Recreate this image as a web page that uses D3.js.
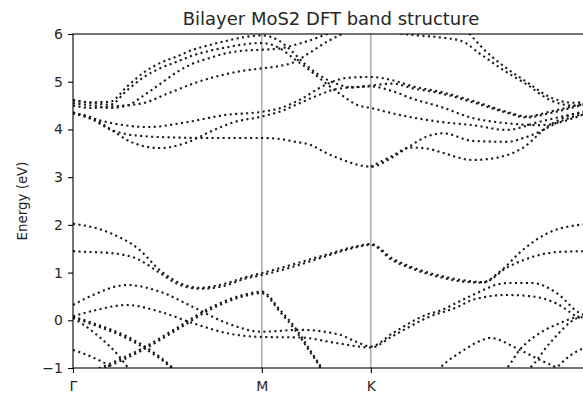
<!DOCTYPE html>
<html>
<head>
<meta charset="utf-8">
<script src="https://cdn.jsdelivr.net/npm/d3@7"></script>
<style>
  html, body { margin: 0; padding: 0; background: #fff; overflow: hidden; }
  svg { display: block; font-family: "DejaVu Sans", sans-serif; }
</style>
</head>
<body>
<svg id="chart" width="583" height="396"></svg>
<script>
// High-symmetry points along the path (path length units, Γ-M = 1)
const kLabels = ["Γ", "M", "K", "Γ"];
const kTicks = [0, 1, 1.577, 2.732];
const energyTicks = [-1, 0, 1, 2, 3, 4, 5, 6];

// Valence bands: [k, E (eV)]
const v1 = [[0,2.02],[0.04,2.0],[0.196,1.83],[0.354,1.47],[0.46,1.05],[0.566,0.78],[0.672,0.68],[0.778,0.74],[0.92,0.91],[1,0.99],[1.164,1.17],[1.344,1.38],[1.5,1.55],[1.577,1.6],[1.693,1.29],[1.783,1.13],[1.958,0.92],[2.048,0.85],[2.17,0.8],[2.26,1.02],[2.38,1.47],[2.51,1.82],[2.68,2.0],[2.732,2.02]];
const v2 = [[0,1.45],[0.04,1.44],[0.196,1.41],[0.354,1.26],[0.46,0.99],[0.566,0.74],[0.672,0.66],[0.778,0.7],[0.92,0.88],[1,0.95],[1.164,1.12],[1.344,1.35],[1.5,1.53],[1.577,1.58],[1.693,1.25],[1.783,1.1],[1.958,0.89],[2.048,0.82],[2.17,0.79],[2.296,1.1],[2.434,1.33],[2.56,1.43],[2.732,1.45]];
const vA = [[0,0.32],[0.106,0.53],[0.286,0.74],[0.46,0.6],[0.635,0.28],[0.815,-0.06],[1,-0.24],[1.2,-0.2],[1.41,-0.3],[1.5,-0.45],[1.577,-0.55],[1.693,-0.27],[1.873,0.12],[1.942,0.2],[2.048,0.4],[2.116,0.53],[2.296,0.78],[2.434,0.78],[2.561,0.57],[2.683,0.15],[2.732,0.08]];
const vB = [[0,0.08],[0.106,0.2],[0.286,0.32],[0.46,0.18],[0.635,-0.06],[0.815,-0.27],[1,-0.35],[1.2,-0.36],[1.4,-0.48],[1.577,-0.57],[1.693,-0.33],[1.873,0.05],[2.048,0.3],[2.116,0.43],[2.296,0.53],[2.434,0.5],[2.561,0.35],[2.683,0.05],[2.732,0.0]];
const vC1 = [[0.11,-1.05],[0.159,-0.97],[0.37,-0.58],[0.55,-0.16],[0.725,0.26],[0.9,0.53],[1,0.6],[1.095,0.22],[1.185,-0.2],[1.254,-0.62],[1.317,-1.0],[1.33,-1.08]];
const vC2 = [[0.14,-1.05],[0.37,-0.62],[0.55,-0.2],[0.725,0.22],[0.9,0.5],[1,0.57],[1.095,0.18],[1.185,-0.25],[1.254,-0.66],[1.31,-1.0],[1.32,-1.08]];
const vD1 = [[0,0.08],[0.106,-0.06],[0.286,-0.34],[0.392,-0.58],[0.529,-1.0],[0.55,-1.08]];
const vD2 = [[0,0.06],[0.106,-0.09],[0.286,-0.38],[0.392,-0.62],[0.52,-1.0],[0.54,-1.08]];
const vE = [[0,0.05],[0.106,-0.24],[0.286,-0.97],[0.3,-1.05]];
const vF = [[0,-0.62],[0.106,-0.78],[0.196,-0.97],[0.22,-1.05]];
const vG = [[1.93,-1.05],[1.942,-1.0],[2.048,-0.68],[2.17,-0.41],[2.206,-0.37],[2.365,-0.62],[2.471,-0.83],[2.561,-1.0],[2.58,-1.05]];
const vH = [[2.28,-1.05],[2.296,-1.0],[2.365,-0.62],[2.471,-0.27],[2.577,-0.06],[2.683,0.08],[2.732,0.1]];
const vI = [[2.4,-1.05],[2.418,-1.0],[2.524,-0.48],[2.683,0.06],[2.732,0.08]];
const vJ = [[2.55,-1.05],[2.561,-1.0],[2.683,-0.62],[2.732,-0.55]];

// Conduction bands: [k, E (eV)]
const c1 = [[0,4.34],[0.106,4.2],[0.196,4.0],[0.286,3.9],[0.37,3.86],[0.55,3.83],[0.725,3.82],[1,3.82],[1.095,3.8],[1.164,3.75],[1.254,3.68],[1.344,3.5],[1.429,3.36],[1.577,3.22],[1.693,3.42],[1.783,3.65],[1.873,3.85],[1.96,3.92],[2.116,3.76],[2.296,3.74],[2.42,3.87],[2.6,4.2],[2.732,4.36]];
const c2 = [[1.577,3.22],[1.693,3.45],[1.783,3.62],[1.873,3.6],[1.942,3.53],[2.116,3.36],[2.2,3.38],[2.38,3.61],[2.524,4.09],[2.62,4.28],[2.732,4.36]];
const c3 = [[0,4.34],[0.1,4.25],[0.2,4.0],[0.3,3.75],[0.46,3.61],[0.6,3.72],[0.725,3.95],[0.85,4.15],[1,4.27],[1.1,4.38],[1.2,4.55],[1.3,4.72],[1.4,4.85],[1.577,4.9],[1.693,4.8],[1.8,4.64],[1.942,4.48],[2.116,4.24],[2.296,4.13],[2.47,4.09],[2.732,4.36]];
const c4 = [[0,4.36],[0.25,4.1],[0.4,4.05],[0.6,4.15],[0.8,4.3],[1,4.37],[1.1,4.45],[1.2,4.62],[1.344,4.95],[1.45,5.08],[1.577,5.1],[1.693,5.03],[1.8,4.9],[1.942,4.79],[2.116,4.6],[2.296,4.37],[2.4,4.27],[2.524,4.37],[2.732,4.58]];
const c5 = [[0,4.5],[0.1,4.45],[0.2,4.48],[0.37,4.55],[0.5,4.75],[0.65,4.98],[0.8,5.15],[0.9,5.23],[1,5.28],[1.095,5.33],[1.164,5.4],[1.25,5.6],[1.35,5.85],[1.45,6.05],[1.5,6.15]];
const c6 = [[1.65,6.1],[1.7,6.03],[1.8,5.98],[1.942,5.93],[2.06,5.85],[2.15,5.6],[2.296,5.2],[2.4,4.95],[2.524,4.62],[2.65,4.5],[2.732,4.55]];
const c7 = [[2.08,6.1],[2.17,5.7],[2.296,5.28],[2.4,5.0],[2.524,4.68],[2.65,4.56],[2.732,4.6]];
const c8 = [[0,4.6],[0.1,4.57],[0.196,4.58],[0.286,4.9],[0.37,5.18],[0.46,5.39],[0.55,5.53],[0.635,5.67],[0.725,5.77],[0.815,5.86],[0.9,5.93],[1,5.97],[1.095,5.85],[1.164,5.62],[1.22,5.4],[1.3,5.15],[1.4,4.95],[1.48,4.88],[1.577,4.92],[1.693,4.96],[1.8,4.86],[1.942,4.76],[2.116,4.57],[2.296,4.35],[2.4,4.25],[2.524,4.34],[2.732,4.56]];
const c9 = [[0,4.62],[0.1,4.55],[0.196,4.52],[0.286,4.82],[0.37,5.08],[0.46,5.28],[0.55,5.42],[0.635,5.55],[0.725,5.65],[0.815,5.72],[0.9,5.78],[1,5.81],[1.095,5.7],[1.164,5.5],[1.25,5.25],[1.344,4.95],[1.43,4.7],[1.5,4.52],[1.577,4.45],[1.7,4.33],[1.942,4.16],[2.116,4.09],[2.296,3.99],[2.47,4.16],[2.732,4.4]];
const c10 = [[0,4.55],[0.1,4.5],[0.196,4.45],[0.286,4.5],[0.37,4.7],[0.46,4.95],[0.55,5.2],[0.635,5.38],[0.725,5.5],[0.815,5.6],[0.9,5.65],[1,5.67],[1.1,5.7],[1.2,5.8],[1.3,5.93],[1.344,6.0],[1.4,6.1]];

const bands = [v1, v2, vA, vB, vC1, vC2, vD1, vD2, vE, vF, vG, vH, vI, vJ,
               c1, c2, c3, c4, c5, c6, c7, c8, c9, c10];

const W = 583;
const svg = d3.select("#chart");
const margin = { left: 73, top: 34, bottom: 368, right: 589 };

const x = d3.scaleLinear().domain([kTicks[0], kTicks[kTicks.length - 1]]).range([margin.left, margin.right]);
const y = d3.scaleLinear().domain([-1, 6]).range([margin.bottom, margin.top]);

svg.append("defs").append("clipPath").attr("id", "plot-area")
  .append("rect")
  .attr("x", margin.left).attr("y", margin.top)
  .attr("width", margin.right - margin.left).attr("height", margin.bottom - margin.top);

// High-symmetry vertical lines
svg.append("g").selectAll("line")
  .data(kTicks.slice(1, -1))
  .join("line")
  .attr("x1", d => x(d)).attr("x2", d => x(d))
  .attr("y1", margin.top).attr("y2", margin.bottom)
  .attr("stroke", "#808080").attr("stroke-width", 1);

// Bands, dotted
const line = d3.line().x(d => x(d[0])).y(d => y(d[1])).curve(d3.curveMonotoneX);
svg.append("g").attr("clip-path", "url(#plot-area)")
  .selectAll("path")
  .data(bands)
  .join("path")
  .attr("d", line)
  .attr("fill", "none")
  .attr("stroke", "#1a1a1a")
  .attr("stroke-width", 2.1)
  .attr("stroke-dasharray", "2.1 3.4");

// Axes
const yAxis = d3.axisLeft(y).tickValues(energyTicks).tickSize(5).tickPadding(5)
  .tickFormat(d => d < 0 ? "\u2212" + Math.abs(d) : String(d));
const gy = svg.append("g").attr("transform", `translate(${margin.left},0)`).call(yAxis);
// only ticks inside the visible width get a label
const xAxis = d3.axisBottom(x).tickValues(kTicks.filter(k => x(k) <= W)).tickSize(5).tickPadding(8.5)
  .tickFormat((d, i) => kLabels[i]);
const gx = svg.append("g").attr("transform", `translate(0,${margin.bottom})`).call(xAxis);

[gy, gx].forEach(g => {
  g.select(".domain").remove();
  g.selectAll(".tick line").attr("stroke", "#000").attr("stroke-width", 1.1);
  g.selectAll(".tick text").attr("font-size", 14).attr("fill", "#262626")
    .attr("font-family", "DejaVu Sans, sans-serif");
});

// Frame
svg.append("rect")
  .attr("x", margin.left).attr("y", margin.top)
  .attr("width", margin.right - margin.left).attr("height", margin.bottom - margin.top)
  .attr("fill", "none").attr("stroke", "#000").attr("stroke-width", 1.1);

// Title and axis label
svg.append("text")
  .attr("x", (margin.left + margin.right) / 2).attr("y", 25)
  .attr("text-anchor", "middle").attr("font-size", 18).attr("fill", "#262626")
  .text("Bilayer MoS2 DFT band structure");

svg.append("text")
  .attr("transform", `translate(27,${(margin.top + margin.bottom) / 2}) rotate(-90)`)
  .attr("text-anchor", "middle").attr("font-size", 13.4).attr("fill", "#262626")
  .text("Energy (eV)");
</script>
</body>
</html>
